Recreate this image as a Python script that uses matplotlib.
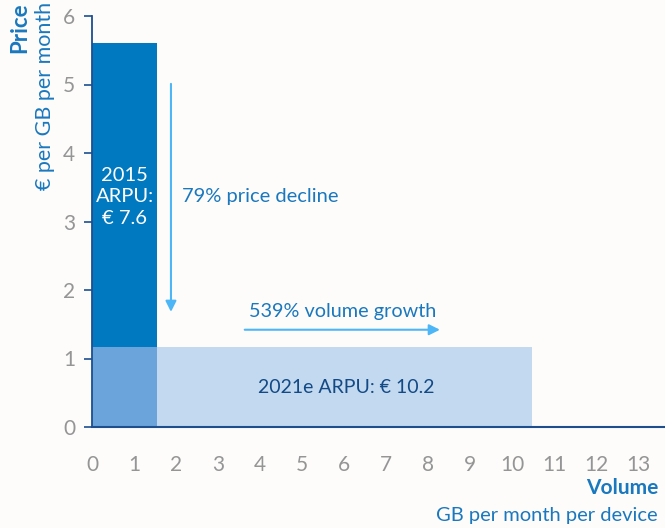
import matplotlib.pyplot as plt
from matplotlib.patches import Rectangle

# bars: (volume width, price height)
bar_2015 = (1.55, 5.6)
bar_2021 = (10.48, 1.17)
labels_2015 = "2015\nARPU:\n€ 7.6"
label_2021 = "2021e ARPU: € 10.2"
x_ticks = list(range(0, 14))
y_ticks = list(range(0, 7))

DARK = "#0079c1"
MID = "#6aa4da"
LIGHT = "#c2d9ef"
ARROW = "#4cb6f7"
NAVY = "#1d4f8f"
TEXT = "#1a78be"
GRAY = "#959595"

plt.rcParams["font.family"] = ["Lato", "DejaVu Sans"]

fig = plt.figure(figsize=(6.65, 5.28), dpi=100, facecolor="#fdfcfb")
ax = fig.add_axes([92 / 665, 101 / 528, 573 / 665, 411 / 528])
ax.set_facecolor("#fdfcfb")
ax.set_xlim(0, 573 / 42)
ax.set_ylim(0, 6)

w15, h15 = bar_2015
w21, h21 = bar_2021
ax.add_patch(Rectangle((0, 0), w15, h15, color=DARK, lw=0))
ax.add_patch(Rectangle((0, 0), w21, h21, color=LIGHT, lw=0))
ax.add_patch(Rectangle((0, 0), min(w15, w21), min(h15, h21), color=MID, lw=0))

ax.text(w15 / 2, 3.36, labels_2015, color="white", ha="center", va="center",
        fontsize=14.5, linespacing=1.3)
ax.text(6.05, 0.57, label_2021, color="#134a86", ha="center", va="center", fontsize=14)

# arrows
ax.annotate("", xy=(1.88, 1.64), xytext=(1.88, 5.05),
            arrowprops=dict(arrowstyle="-|>", color=ARROW, lw=1.5, mutation_scale=16))
ax.annotate("", xy=(8.35, 1.42), xytext=(3.57, 1.42),
            arrowprops=dict(arrowstyle="-|>", color=ARROW, lw=1.5, mutation_scale=16))
ax.text(2.15, 3.36, "79% price decline", color=TEXT, ha="left", va="center", fontsize=14.5)
ax.text(3.73, 1.68, "539% volume growth", color=TEXT, ha="left", va="center", fontsize=14.3)

for s in ["top", "right"]:
    ax.spines[s].set_visible(False)
ax.spines["left"].set_color(NAVY)
ax.spines["bottom"].set_color(NAVY)
ax.spines["left"].set_linewidth(1.3)
ax.spines["bottom"].set_linewidth(1.5)

ax.set_xticks(x_ticks)
ax.set_yticks(y_ticks)
ax.tick_params(axis="x", length=0, pad=20, labelsize=15, labelcolor=GRAY)
ax.tick_params(axis="y", length=6, width=1.2, color=NAVY, pad=6, labelsize=15, labelcolor=GRAY)

fig.text(20 / 665, 1 - 2 / 528, "Price", rotation=90, ha="center", va="top",
         color=TEXT, fontsize=16, fontweight="bold")
fig.text(45 / 665, 1 - 2 / 528, "€ per GB per month", rotation=90, ha="center", va="top",
         color=TEXT, fontsize=15.5)
fig.text(658 / 665, 1 - 488 / 528, "Volume", ha="right", va="center",
         color=TEXT, fontsize=15, fontweight="bold")
fig.text(658 / 665, 1 - 515 / 528, "GB per month per device", ha="right", va="center",
         color=TEXT, fontsize=14.5)

fig.savefig("out.png", dpi=100, facecolor=fig.get_facecolor())
